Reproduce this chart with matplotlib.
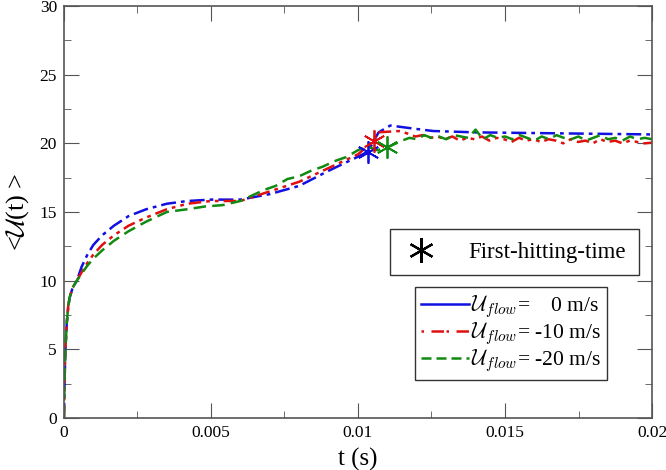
import numpy as np
import matplotlib
matplotlib.use("Agg")
import matplotlib.pyplot as plt
from matplotlib.lines import Line2D

plt.rcParams['font.family'] = ['Liberation Serif', 'DejaVu Serif']
plt.rcParams['mathtext.fontset'] = 'cm'

# early (common) rise
t_start = [0.0, 0.00002, 0.00005, 0.0001, 0.00015, 0.0002, 0.0003, 0.00044]
v_start = [0.0, 2.5, 5.0, 7.0, 8.2, 8.8, 9.5, 10.0]

# blue: Uflow = 0 m/s
t_blue = t_start + [0.0006, 0.0008, 0.001, 0.0013, 0.0017, 0.0022, 0.0028, 0.0035,
                    0.0042, 0.005, 0.006, 0.007, 0.008, 0.009, 0.01007, 0.01034,
                    0.0107, 0.0111, 0.0118, 0.01255, 0.014, 0.016, 0.018, 0.02]
v_blue = v_start + [11.0, 11.9, 12.6, 13.3, 14.0, 14.7, 15.2, 15.6,
                    15.8, 15.9, 15.9, 16.3, 16.9, 18.0, 19.1, 19.4,
                    20.8, 21.3, 21.1, 20.9, 20.8, 20.75, 20.7, 20.65]

# red: Uflow = -10 m/s
t_red = t_start + [0.0006, 0.0008, 0.001, 0.0013, 0.0017, 0.0022, 0.0028, 0.0035,
                   0.0042, 0.005, 0.006, 0.007, 0.008, 0.009, 0.01, 0.01054,
                   0.01065, 0.01143]
v_red = v_start + [10.6, 11.3, 11.9, 12.6, 13.3, 14.0, 14.6, 15.2,
                   15.6, 15.8, 15.8, 16.5, 17.2, 18.2, 19.2, 20.2,
                   20.8, 20.9]
t_red_tail = np.linspace(0.0117, 0.02, 34)
v_red_tail = [20.7, 20.5, 20.6, 20.4, 20.5, 20.3, 20.5, 20.2, 20.4, 20.3,
              20.5, 20.2, 20.4, 20.3, 20.1, 20.4, 20.2, 20.3, 20.1, 20.3,
              20.2, 20.0, 20.3, 20.1, 20.2, 20.0, 20.3, 20.1, 20.2, 20.0,
              20.2, 20.1, 20.0, 20.05]

# green: Uflow = -20 m/s
t_green = t_start + [0.0006, 0.0008, 0.001, 0.0013, 0.0017, 0.0022, 0.0028, 0.0035,
                     0.0042, 0.0048, 0.0054, 0.006, 0.0064, 0.0068, 0.0072, 0.0076,
                     0.008, 0.0084, 0.0088, 0.0092, 0.0096, 0.01, 0.0103, 0.01065,
                     0.01099, 0.0113]
v_green = v_start + [10.5, 11.1, 11.6, 12.2, 12.9, 13.6, 14.3, 15.0,
                     15.2, 15.4, 15.5, 15.8, 16.2, 16.6, 16.9, 17.4,
                     17.6, 18.0, 18.3, 18.7, 19.0, 19.5, 19.8, 19.5,
                     19.7, 20.0]
t_green_tail = np.linspace(0.0115, 0.02, 35)
v_green_tail = [20.2, 20.4, 20.3, 20.6, 20.4, 20.5, 20.3, 20.6, 20.5, 20.4,
                21.0, 20.3, 20.6, 20.4, 20.5, 20.3, 20.6, 20.4, 20.2, 20.5,
                20.3, 20.6, 20.4, 20.3, 20.5, 20.2, 20.4, 20.6, 20.3, 20.4,
                20.2, 20.5, 20.3, 20.4, 20.3]

# first-hitting-time points
fht_t = [0.01034, 0.01054, 0.01099]
fht_v = [19.4, 20.2, 19.7]
colors = ['#1010e0', '#e01010', '#108a10']
flows = ['    0', ' -10', ' -20']

fig = plt.figure(figsize=(6.66, 4.70), dpi=100)
ax = fig.add_axes([0.096, 0.111, 0.883, 0.876])

ax.plot(t_blue, v_blue, color=colors[0], lw=1.8, dashes=[6, 2, 1.5, 2])
ax.plot(list(t_red) + list(t_red_tail), v_red + v_red_tail, color=colors[1], lw=1.8,
        dashes=[5, 2, 1.5, 2, 1.5, 2])
ax.plot(list(t_green) + list(t_green_tail), v_green + v_green_tail, color=colors[2],
        lw=1.8, dashes=[5, 2.5])

asterisk = (6, 2, 0)
for t, v, c in zip(fht_t, fht_v, colors):
    ax.plot(t, v, marker=asterisk, ms=16, mew=1.3, color=c, ls='none')

ax.set_xlim(0, 0.02)
ax.set_ylim(0, 30)
ax.set_xticks([0, 0.005, 0.01, 0.015, 0.02])
ax.set_xticklabels(['0', '0.005', '0.01', '0.015', '0.02'])
ax.set_xticks([0.0025, 0.0075, 0.0125, 0.0175], minor=True)
ax.set_yticks([0, 5, 10, 15, 20, 25, 30])
ax.set_yticks([2.5, 7.5, 12.5, 17.5, 22.5, 27.5], minor=True)
ax.tick_params(which='both', direction='in', top=True, right=True,
               labelsize=12.5, color='#555555')
ax.tick_params(which='major', length=11, pad=5)
ax.tick_params(which='minor', length=5)
for s in ax.spines.values():
    s.set_color('#555555')
    s.set_linewidth(1.2)

ax.set_xlabel('t (s)', fontsize=18, labelpad=5)
ax.set_ylabel(r'<$\mathcal{U}$(t) >', fontsize=19, labelpad=6)

h1 = [Line2D([], [], marker=asterisk, ms=18, mew=1.6, color='black', ls='none')]
leg1 = ax.legend(h1, ['First-hitting-time'], loc='center left',
                 bbox_to_anchor=(0.554, 0.402), fontsize=16.5, frameon=True,
                 fancybox=False, edgecolor='black', handletextpad=1.3,
                 borderpad=0.55, handlelength=1.6, borderaxespad=0)
leg1.get_frame().set_linewidth(1.0)
ax.add_artist(leg1)

h2 = [Line2D([], [], color=colors[0], lw=1.8),
      Line2D([], [], color=colors[1], lw=1.8, dashes=[1, 3, 5, 1]),
      Line2D([], [], color=colors[2], lw=1.8, dashes=[4, 2])]
labels2 = [r'$\mathcal{U}_{flow}$=' + f + ' m/s' for f in flows]
leg2 = ax.legend(h2, labels2, loc='center left', bbox_to_anchor=(0.597, 0.205),
                 fontsize=15.5, frameon=True, fancybox=False, edgecolor='black',
                 handletextpad=0.1, handlelength=2.2, labelspacing=0.0,
                 borderpad=0.3, borderaxespad=0)
leg2.get_frame().set_linewidth(1.0)

fig.savefig('out.png', dpi=100)
